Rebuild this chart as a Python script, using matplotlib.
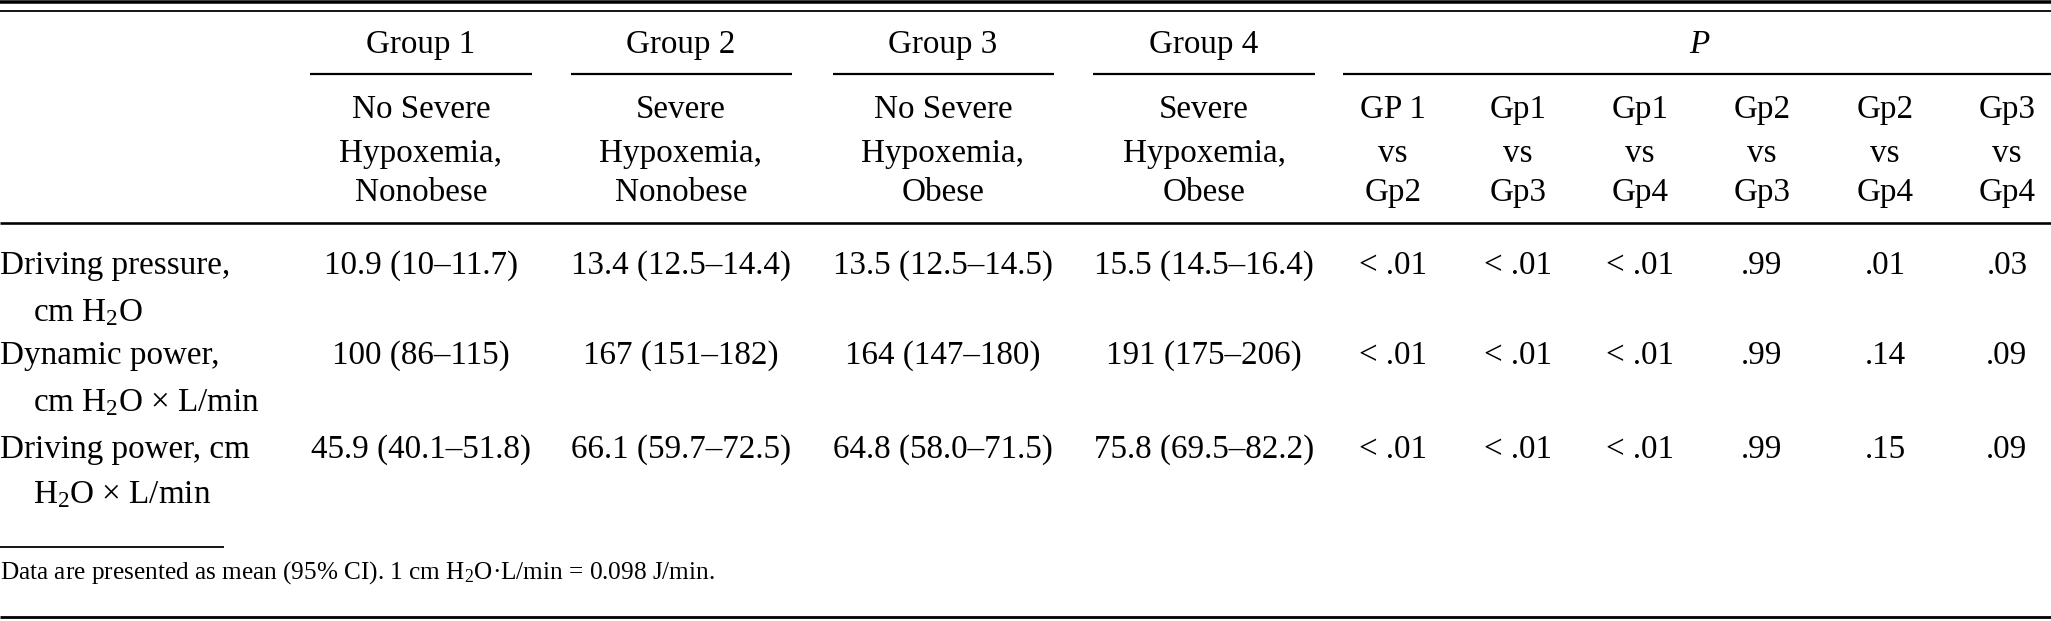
import matplotlib
matplotlib.use("Agg")
import matplotlib.pyplot as plt

# 表格内容
group_names = ["Group 1", "Group 2", "Group 3", "Group 4"]
group_desc = [
    ["No Severe", "Hypoxemia,", "Nonobese"],
    ["Severe", "Hypoxemia,", "Nonobese"],
    ["No Severe", "Hypoxemia,", "Obese"],
    ["Severe", "Hypoxemia,", "Obese"],
]
comparisons = [
    ["GP 1", "vs", "Gp2"],
    ["Gp1", "vs", "Gp3"],
    ["Gp1", "vs", "Gp4"],
    ["Gp2", "vs", "Gp3"],
    ["Gp2", "vs", "Gp4"],
    ["Gp3", "vs", "Gp4"],
]
row_labels = [
    ["Driving pressure,", "cm $\\mathrm{H_2O}$"],
    ["Dynamic power,", "cm $\\mathrm{H_2O}$ × L/min"],
    ["Driving power, cm", "$\\mathrm{H_2O}$ × L/min"],
]
group_values = [
    ["10.9 (10–11.7)", "13.4 (12.5–14.4)", "13.5 (12.5–14.5)", "15.5 (14.5–16.4)"],
    ["100 (86–115)", "167 (151–182)", "164 (147–180)", "191 (175–206)"],
    ["45.9 (40.1–51.8)", "66.1 (59.7–72.5)", "64.8 (58.0–71.5)", "75.8 (69.5–82.2)"],
]
p_values = [
    ["< .01", "< .01", "< .01", ".99", ".01", ".03"],
    ["< .01", "< .01", "< .01", ".99", ".14", ".09"],
    ["< .01", "< .01", "< .01", ".99", ".15", ".09"],
]
footnote = "Data are presented as mean (95% CI). 1 cm $\\mathrm{H_2O}$·L/min = 0.098 J/min."

plt.rcParams["font.family"] = ["Liberation Serif", "DejaVu Serif"]
plt.rcParams["mathtext.fontset"] = "custom"
plt.rcParams["mathtext.rm"] = "Liberation Serif"
plt.rcParams["mathtext.it"] = "Liberation Serif:italic"

W, H = 2051, 621
fig = plt.figure(figsize=(W / 100, H / 100), dpi=100)
ax = fig.add_axes([0, 0, 1, 1])
ax.set_xlim(0, W)
ax.set_ylim(H, 0)
ax.axis("off")

fs = 23.9
px = 72 / 100  # 像素 -> 点

def hline(x0, x1, y, w):
    ax.plot([x0, x1], [y, y], color="black", lw=w * px, solid_capstyle="butt")

# 列位置
group_x = [421, 681, 943, 1204]
group_span = [(310, 532), (571, 792), (833, 1054), (1093, 1315)]
p_x = [1393, 1518, 1640, 1762, 1885, 2007]
p_span = (1343, W)
sub_y = [118, 162, 201]
row_y = [(274, 321), (364, 411), (458, 503)]

# 横线
hline(0, W, 1.8, 3.5)
hline(0, W, 10.5, 1.8)
hline(0, W, 222.5, 2.6)
hline(0, 224, 547, 1.8)
hline(0, W, 617, 2.8)

# 表头
for name, desc, x, (a, b) in zip(group_names, group_desc, group_x, group_span):
    ax.text(x, 53, name, ha="center", va="baseline", fontsize=fs)
    hline(a, b, 74, 2.2)
    for line, y in zip(desc, sub_y):
        ax.text(x, y, line, ha="center", va="baseline", fontsize=fs)

ax.text(1699, 53, "P", ha="center", va="baseline", fontsize=fs, style="italic")
hline(p_span[0], p_span[1], 74, 2.2)
for comp, x in zip(comparisons, p_x):
    for line, y in zip(comp, sub_y):
        ax.text(x, y, line, ha="center", va="baseline", fontsize=fs)

# 数据行
for label, vals, pv, (y1, y2) in zip(row_labels, group_values, p_values, row_y):
    ax.text(0, y1, label[0], ha="left", va="baseline", fontsize=fs)
    ax.text(33, y2, label[1], ha="left", va="baseline", fontsize=fs)
    for v, x in zip(vals, group_x):
        ax.text(x, y1, v, ha="center", va="baseline", fontsize=fs)
    for v, x in zip(pv, p_x):
        ax.text(x, y1, v, ha="center", va="baseline", fontsize=fs)

ax.text(0, 579, footnote, ha="left", va="baseline", fontsize=18.2)

fig.savefig("out.png", dpi=100, facecolor="white")
